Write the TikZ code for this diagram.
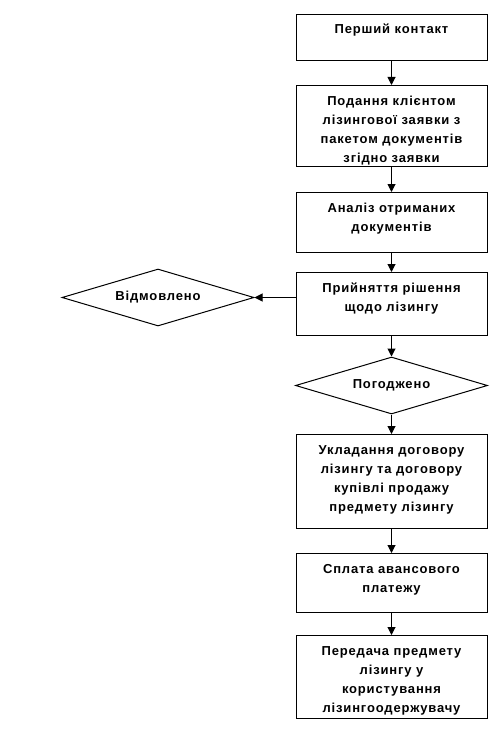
\documentclass[tikz,border=0pt]{standalone}
\usepackage{fontspec}
\setmainfont{Liberation Sans}[LetterSpace=6.5]
\usetikzlibrary{shapes.geometric,arrows.meta}

\newcommand{\stepbody}[2]{\parbox[c][#1pt][t]{191pt}{\centering\rule{0pt}{19.5pt}#2}}

\begin{document}
\begin{tikzpicture}[x=1pt,y=-1pt,
    box/.style={draw,line width=1pt,anchor=north,inner sep=0pt,
      font=\bfseries\fontsize{13}{19.3}\selectfont},
    choice/.style={draw,diamond,aspect=3.4,line width=1pt,inner sep=0pt,
      minimum width=192pt,minimum height=57pt,
      font=\bfseries\fontsize{13}{19.3}\selectfont},
    arr/.style={-{Triangle[length=8pt,width=8pt]},line width=1pt}]
    \useasboundingbox (0,0) rectangle (500,733);
    \node[box] (s1) at (391.5,14) {\stepbody{46}{Перший контакт}};
    \node[box] (s2) at (391.5,85) {\stepbody{81}{Подання клієнтом\\лізингової заявки з\\пакетом документів\\згідно заявки}};
    \node[box] (s3) at (391.5,192) {\stepbody{60}{Аналіз отриманих\\документів}};
    \node[box] (s4) at (391.5,272) {\stepbody{63}{Прийняття рішення\\щодо лізингу}};
    \node[choice] (no) at (158,297.5) {Відмовлено};
    \node[choice] (yes) at (391.5,385.5) {Погоджено};
    \node[box] (s5) at (391.5,434) {\stepbody{94}{Укладання договору\\лізингу та договору\\купівлі продажу\\предмету лізингу}};
    \node[box] (s6) at (391.5,553) {\stepbody{59}{Сплата авансового\\платежу}};
    \node[box] (s7) at (391.5,635) {\stepbody{83}{Передача предмету\\лізингу у\\користування\\лізингоодержувачу}};
    \foreach \a/\b in {s1/s2,s2/s3,s3/s4,s4/yes,yes/s5,s5/s6,s6/s7}
        \draw[arr] (\a) -- (\b);
    \draw[arr] (s4.west |- no) -- (no.east);
\end{tikzpicture}
\end{document}
